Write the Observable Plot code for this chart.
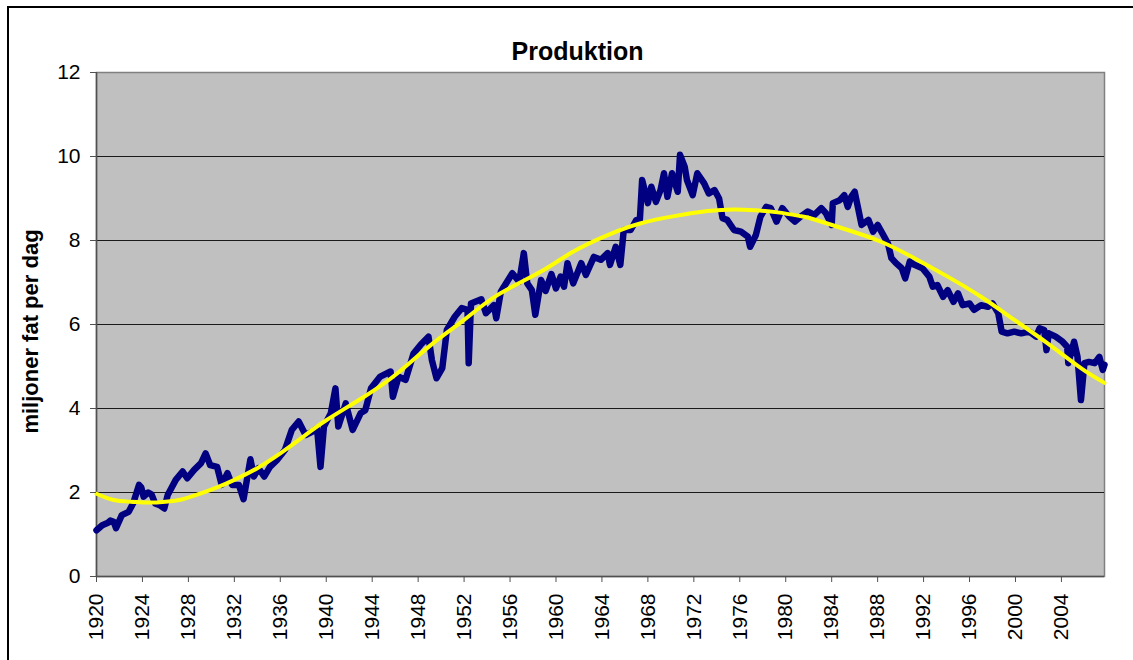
<!DOCTYPE html>
<html><head><meta charset="utf-8">
<script src="https://cdn.jsdelivr.net/npm/d3@7"></script>
<script src="https://cdn.jsdelivr.net/npm/@observablehq/plot@0.6"></script>
<style>
body{margin:0;background:#fff;overflow:hidden}
#wrap{position:relative;width:1133px;height:660px;overflow:hidden}
#border{position:absolute;left:7px;top:6px;width:1300px;height:800px;border-left:2px solid #000;border-top:2px solid #000;pointer-events:none}
</style></head>
<body><div id="wrap"><div id="chart"></div><div id="border"></div></div>
<script>
const title = "Produktion";
const yLabel = "miljoner fat per dag";
const xTicks = [1920,1924,1928,1932,1936,1940,1944,1948,1952,1956,1960,1964,1968,1972,1976,1980,1984,1988,1992,1996,2000,2004];
const yTicks = [0,2,4,6,8,10,12];

const prodYears = [
1920.0,1920.5,1921.0,1921.2,1921.5,1921.7,1922.2,1922.8,1923.2,1923.7,1923.9,1924.1,1924.5,1924.8,1925.1,1925.5,1925.9,1926.2,1926.9,1927.5,
1927.9,1928.5,1929.1,1929.5,1929.9,1930.5,1930.9,1931.4,1931.8,1932.4,1932.8,1933.4,1933.7,1934.1,1934.6,1935.1,1935.7,1936.4,1937.0,1937.6,
1938.2,1938.8,1939.2,1939.5,1939.8,1940.4,1940.8,1941.05,1941.7,1942.3,1943.0,1943.4,1943.9,1944.7,1945.6,1945.8,1946.3,1946.9,1947.6,1948.2,
1948.9,1949.2,1949.6,1950.1,1950.5,1951.2,1951.8,1952.3,1952.4,1952.6,1953.5,1953.9,1954.6,1954.8,1955.2,1956.2,1956.8,1957.2,1957.5,1957.9,
1958.2,1958.7,1959.1,1959.6,1960.0,1960.4,1960.7,1961.0,1961.5,1962.2,1962.6,1963.3,1963.9,1964.5,1964.7,1965.2,1965.6,1965.9,1966.5,1967.0,
1967.3,1967.5,1968.0,1968.3,1968.7,1969.1,1969.4,1969.7,1970.1,1970.6,1970.8,1971.2,1971.4,1971.9,1972.3,1972.9,1973.3,1973.8,1974.2,1974.5,
1974.9,1975.5,1976.1,1976.7,1976.9,1977.4,1977.8,1978.3,1978.7,1979.2,1979.7,1980.3,1980.8,1981.3,1981.9,1982.5,1983.1,1983.5,1984.0,1984.1,
1984.7,1985.1,1985.4,1985.7,1986.0,1986.3,1986.6,1987.2,1987.6,1988.0,1988.5,1988.9,1989.2,1989.6,1990.1,1990.4,1990.8,1991.2,1991.9,1992.5,
1992.8,1993.2,1993.7,1994.1,1994.6,1995.0,1995.4,1996.0,1996.4,1997.0,1997.6,1998.0,1998.5,1998.8,1999.3,1999.9,2000.5,2001.2,2001.8,2002.1,
2002.5,2002.7,2002.9,2003.5,2004.1,2004.5,2004.6,2005.1,2005.4,2005.7,2006.0,2006.4,2006.9,2007.3,2007.6,2007.75];
const prodValues = [
1.10,1.22,1.28,1.33,1.30,1.15,1.46,1.54,1.75,2.18,2.12,1.90,2.00,1.95,1.74,1.70,1.62,1.94,2.30,2.50,
2.34,2.54,2.70,2.93,2.65,2.61,2.18,2.46,2.18,2.18,1.84,2.79,2.38,2.58,2.38,2.61,2.77,3.01,3.49,3.69,
3.37,3.45,3.53,2.61,3.57,3.89,4.48,3.57,4.12,3.49,3.89,3.96,4.48,4.76,4.88,4.28,4.76,4.68,5.31,5.51,
5.71,5.15,4.72,4.96,5.87,6.19,6.39,6.35,5.08,6.50,6.60,6.27,6.46,6.15,6.78,7.22,7.02,7.70,6.98,6.82,
6.23,7.06,6.80,7.20,6.86,7.14,6.90,7.46,6.98,7.46,7.18,7.61,7.54,7.70,7.42,7.85,7.42,8.25,8.25,8.49,
8.49,9.44,8.89,9.28,8.92,9.20,9.60,9.04,9.60,9.16,10.04,9.76,9.44,9.08,9.60,9.36,9.12,9.20,9.00,8.53,
8.49,8.25,8.21,8.09,7.85,8.13,8.57,8.80,8.77,8.45,8.77,8.57,8.45,8.57,8.69,8.61,8.77,8.65,8.37,8.89,
8.96,9.08,8.80,9.04,9.16,8.77,8.37,8.49,8.21,8.37,8.13,7.93,7.58,7.46,7.34,7.10,7.50,7.42,7.34,7.14,
6.90,6.94,6.66,6.82,6.54,6.74,6.46,6.50,6.35,6.46,6.42,6.50,6.27,5.83,5.79,5.83,5.79,5.83,5.71,5.91,
5.87,5.39,5.79,5.71,5.59,5.47,5.08,5.59,5.23,4.20,5.08,5.11,5.08,5.23,4.92,5.04];

const trendYears = [1920,1921.5,1923,1924.5,1926,1927.5,1929,1930.5,1932,1934,1936,1938,1940,1943.3,1946.2,1949.1,1952,1954.9,1958.7,1961.4,
1964.5,1967.4,1970.3,1973.2,1975.5,1977.3,1979.3,1981.3,1982.5,1985.4,1988.3,1991.2,1994.1,1997.0,1999.9,2002.8,2005.7,2007.75];
const trendValues = [1.97,1.82,1.78,1.76,1.78,1.84,1.97,2.12,2.30,2.58,2.93,3.33,3.72,4.28,4.84,5.51,6.11,6.70,7.26,7.72,
8.13,8.41,8.58,8.70,8.74,8.72,8.67,8.58,8.50,8.25,7.97,7.58,7.14,6.66,6.11,5.55,4.96,4.61];

const prod = prodYears.map((y,i)=>({year:y, value:prodValues[i]}));
const trend = trendYears.map((y,i)=>({year:y, value:trendValues[i]}));

const font = "Arial, 'Liberation Sans', Helvetica, sans-serif";
const chart = Plot.plot({
  width:1133, height:660,
  marginLeft:96, marginRight:29, marginTop:72, marginBottom:84,
  style:{fontFamily:font, fontSize:"20px", color:"#000", background:"transparent", overflow:"visible"},
  x:{domain:[1920,2007.75], label:null},
  y:{domain:[0,12], label:null},
  marks:[
    Plot.frame({fill:"#c0c0c0", stroke:"#808080", strokeWidth:1.5}),
    Plot.ruleY(yTicks.filter(v=>v>0 && v<12), {stroke:"#1a1a1a", strokeWidth:1}),
    Plot.ruleX([1920], {stroke:"#505050", strokeWidth:1.5}),
    Plot.ruleY([0], {stroke:"#505050", strokeWidth:1.5}),
    Plot.line(prod, {x:"year", y:"value", stroke:"#000080", strokeWidth:6.5, strokeLinejoin:"round", strokeLinecap:"round"}),
    Plot.line(trend, {x:"year", y:"value", stroke:"#ffff00", strokeWidth:4, curve:"natural"}),
    Plot.axisX(xTicks, {tickFormat:d=>String(d), tickRotate:-90, tickSize:6, tickPadding:11, stroke:"#505050", fontSize:21}),
    Plot.axisY(yTicks, {tickSize:6, tickPadding:10, stroke:"#505050", fontSize:21}),
    Plot.text([title], {frameAnchor:"top", dx:-23, dy:-30, fontSize:25, fontWeight:"bold", fill:"#000"}),
    Plot.text([yLabel], {frameAnchor:"left", dx:-66, dy:7, rotate:-90, textAnchor:"middle", fontSize:22, fontWeight:"bold", fill:"#000"})
  ]
});
document.getElementById("chart").appendChild(chart);
</script>
</body></html>
